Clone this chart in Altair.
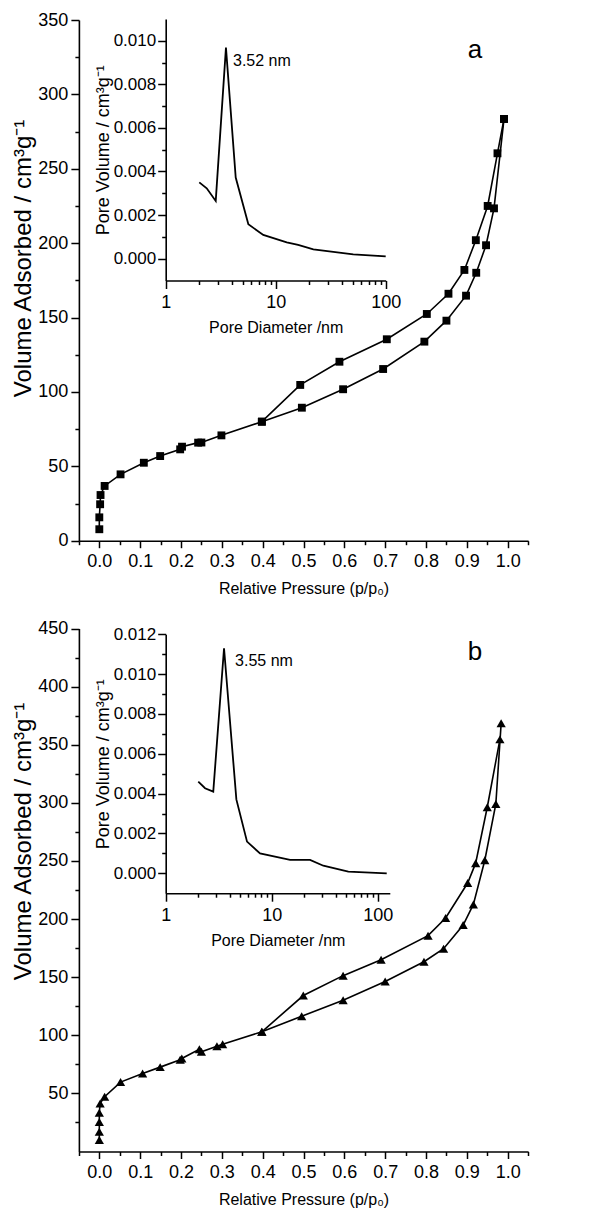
import altair as alt
import pandas as pd

# ---------------- data ----------------
# Panel a: N2 isotherm (squares)
a_ads_p = [0.0, 0.0, 0.002, 0.003, 0.013, 0.052, 0.109, 0.149, 0.198, 0.2025, 0.242, 0.25,
           0.299, 0.398, 0.496, 0.597, 0.695, 0.796, 0.85, 0.898, 0.923, 0.947, 0.9665, 0.991]
a_ads_v = [7.7, 15.7, 24.5, 30.7, 36.8, 44.6, 52.4, 56.9, 61.4, 63.2, 65.9, 66.0,
           70.8, 80.0, 89.4, 101.8, 115.4, 133.8, 147.9, 164.7, 180.1, 198.6, 223.4, 283.5]
a_des_p = [0.991, 0.975, 0.951, 0.922, 0.894, 0.855, 0.802, 0.704, 0.588, 0.492, 0.398]
a_des_v = [283.5, 260.4, 225.0, 202.0, 182.0, 166.0, 152.4, 135.4, 120.3, 104.7, 80.0]

# Panel b: N2 isotherm (triangles)
b_ads_p = [0.0, 0.0, 0.0, 0.0, 0.002, 0.013, 0.052, 0.106, 0.149, 0.198, 0.202, 0.245, 0.25,
           0.288, 0.302, 0.398, 0.4955, 0.597, 0.70, 0.795, 0.843, 0.891, 0.916, 0.944, 0.971, 0.984]
b_ads_v = [9.9, 17.0, 25.3, 33.4, 41.4, 47.1, 59.7, 67.2, 72.6, 78.9, 80.0, 88.0, 85.8,
           90.6, 92.3, 103.0, 116.4, 130.1, 146.2, 163.3, 174.5, 194.9, 212.6, 250.6, 299.0, 368.4]
b_des_p = [0.981, 0.950, 0.9216, 0.902, 0.848, 0.805, 0.69, 0.597, 0.4995, 0.398]
b_des_v = [354.6, 296.2, 248.1, 231.0, 200.9, 185.7, 165.0, 151.3, 134.2, 103.0]

# Insets: pore size distributions
a_psd_d = [2.02, 2.36, 2.85, 3.53, 4.33, 5.64, 7.71, 12.6, 16.0, 22.0, 33.4, 50.7, 100.0]
a_psd_v = [0.0035, 0.00323, 0.00265, 0.00968, 0.00372, 0.00158, 0.00109, 0.00075, 0.00063,
           0.00043, 0.00031, 0.0002, 0.00011]
b_psd_d = [2.03, 2.35, 2.81, 3.55, 4.64, 5.85, 7.76, 14.9, 23.0, 30.7, 52.8, 121.6]
b_psd_v = [0.0046, 0.00427, 0.0041, 0.0113, 0.00371, 0.00159, 0.0010, 0.00067, 0.00067,
           0.00038, 0.00008, 0.0]

# tick values
x_major = [0.0, 0.1, 0.2, 0.3, 0.4, 0.5, 0.6, 0.7, 0.8, 0.9, 1.0]
x_minor = [-0.05, 0.05, 0.15, 0.25, 0.35, 0.45, 0.55, 0.65, 0.75, 0.85, 0.95, 1.05]
a_y_major = [0, 50, 100, 150, 200, 250, 300, 350]
a_y_minor = [25, 75, 125, 175, 225, 275, 325]
b_y_major = [50, 100, 150, 200, 250, 300, 350, 400, 450]
b_y_minor = [25, 75, 125, 175, 225, 275, 325, 375, 425]
ins_x_major = [1, 10, 100]
ins_x_minor = [2, 3, 4, 5, 6, 7, 8, 9, 20, 30, 40, 50, 60, 70, 80, 90]
ia_y_major = [0.0, 0.002, 0.004, 0.006, 0.008, 0.010]
ia_y_minor = [0.001, 0.003, 0.005, 0.007, 0.009]
ib_y_major = [0.0, 0.002, 0.004, 0.006, 0.008, 0.010, 0.012]
ib_y_minor = [0.001, 0.003, 0.005, 0.007, 0.009, 0.011]

W, H = 593, 1201
FONT = "Liberation Sans"

X_TITLE = "Relative Pressure (p/p\u2080)"
Y_TITLE = "Volume Adsorbed / cm\u00b3g\u207b\u00b9"
IY_TITLE = "Pore Volume / cm\u00b3g\u207b\u00b9"
IX_TITLE = "Pore Diameter /nm"


def iso_df(ads_p, ads_v, des_p, des_v):
    rows = []
    for i, (p, v) in enumerate(zip(ads_p, ads_v)):
        rows.append(dict(p=p, v=v, branch="ads", i=i))
    for i, (p, v) in enumerate(zip(des_p, des_v)):
        rows.append(dict(p=p, v=v, branch="des", i=i))
    return pd.DataFrame(rows)


def main_panel(df, ydom, yrange, x_off, yvals, yminor, shape, size, letter, lp, lv, title_y):
    xs = alt.Scale(domain=[-0.05, 1.05], range=[70.9, 520.1], nice=False, zero=False)
    ys = alt.Scale(domain=ydom, range=yrange, nice=False, zero=False)
    xax = alt.Axis(orient="bottom", offset=x_off, values=x_major, format=".1f",
                   tickSize=7, labelPadding=5, labelFontSize=18,
                   title=X_TITLE, titlePadding=10, titleFontSize=16)
    yax = alt.Axis(orient="left", offset=-70.9, values=yvals, format="d",
                   tickSize=8, labelPadding=3, labelFontSize=18,
                   title=Y_TITLE, titlePadding=2, titleFontSize=24, titleY=title_y)
    xmin = alt.Axis(orient="bottom", offset=x_off, values=x_minor, labels=False,
                    tickSize=4, domain=False, title=None)
    ymin = alt.Axis(orient="left", offset=-70.9, values=yminor, labels=False,
                    tickSize=4, domain=False, title=None)
    base = alt.Chart(df)
    line = base.mark_line(color="black", strokeWidth=1.6).encode(
        x=alt.X("p:Q", scale=xs, axis=xax),
        y=alt.Y("v:Q", scale=ys, axis=yax),
        detail="branch:N",
        order="i:Q",
    )
    pts = base.mark_point(shape=shape, filled=True, size=size, color="black", opacity=1).encode(
        x=alt.X("p:Q", scale=xs, axis=None),
        y=alt.Y("v:Q", scale=ys, axis=None),
    )
    minor = base.mark_point(opacity=0).encode(
        x=alt.X("p:Q", scale=xs, axis=xmin),
        y=alt.Y("v:Q", scale=ys, axis=ymin),
    )
    lab = alt.Chart(pd.DataFrame({"p": [lp], "v": [lv], "t": [letter]})).mark_text(
        font=FONT, fontSize=26, color="black", align="center", baseline="middle"
    ).encode(
        x=alt.X("p:Q", scale=xs, axis=None),
        y=alt.Y("v:Q", scale=ys, axis=None),
        text="t:N",
    )
    return alt.layer(line, pts, minor, lab).resolve_axis(x="independent", y="independent")


def inset(d, v, xdom, xrange, ydom, yrange, x_off, yvals, yminor, label, lx, ly):
    df = pd.DataFrame({"d": d, "pv": v})
    xs = alt.Scale(type="log", domain=xdom, range=xrange, nice=False)
    ys = alt.Scale(domain=ydom, range=yrange, nice=False, zero=False)
    xax = alt.Axis(orient="bottom", offset=x_off, values=ins_x_major, format="d",
                   tickSize=8, labelPadding=5, labelFontSize=18,
                   title=IX_TITLE, titlePadding=8, titleFontSize=16)
    yax = alt.Axis(orient="left", offset=-157.7, values=yvals, format=".3f",
                   tickSize=8, labelPadding=2, labelFontSize=17,
                   title=IY_TITLE, titlePadding=1, titleFontSize=18)
    xmin = alt.Axis(orient="bottom", offset=x_off, values=ins_x_minor, labels=False,
                    tickSize=4, domain=False, title=None)
    ymin = alt.Axis(orient="left", offset=-157.7, values=yminor, labels=False,
                    tickSize=4, domain=False, title=None)
    base = alt.Chart(df)
    line = base.mark_line(color="black", strokeWidth=1.8).encode(
        x=alt.X("d:Q", scale=xs, axis=xax),
        y=alt.Y("pv:Q", scale=ys, axis=yax),
    )
    minor = base.mark_point(opacity=0).encode(
        x=alt.X("d:Q", scale=xs, axis=xmin),
        y=alt.Y("pv:Q", scale=ys, axis=ymin),
    )
    lab = alt.Chart(pd.DataFrame({"d": [lx], "pv": [ly], "t": [label]})).mark_text(
        font=FONT, fontSize=16, color="black", align="left", baseline="middle"
    ).encode(
        x=alt.X("d:Q", scale=xs, axis=None),
        y=alt.Y("pv:Q", scale=ys, axis=None),
        text="t:N",
    )
    return alt.layer(line, minor, lab).resolve_axis(x="independent", y="independent")


df_a = iso_df(a_ads_p, a_ads_v, a_des_p, a_des_v)
df_b = iso_df(b_ads_p, b_ads_v, b_des_p, b_des_v)

main_a = main_panel(df_a, [0, 350], [532.7, 12.0], 532.7 - H, a_y_major, a_y_minor,
                    "square", 62, "a", 0.92, 329.8, 250)
main_b = main_panel(df_b, [0, 450], [1143.5, 620.5], 1143.5 - H, b_y_major, b_y_minor,
                    "triangle-up", 85, "b", 0.92, 429.8, 833)
ins_a = inset(a_psd_d, a_psd_v, [1, 100], [157.7, 377.7], [-0.001, 0.011], [272.5, 10.9],
              272.5 - H, ia_y_major, ia_y_minor, "3.52 nm", 4.09, 0.00907)
ins_b = inset(b_psd_d, b_psd_v, [1, 130], [157.7, 381.8], [-0.001, 0.012], [885.2, 626.3],
              885.2 - H, ib_y_major, ib_y_minor, "3.55 nm", 4.51, 0.01066)

chart = (
    alt.layer(main_a, ins_a, main_b, ins_b)
    .resolve_scale(x="independent", y="independent")
    .resolve_axis(x="independent", y="independent")
    .properties(width=W, height=H, padding=0, autosize=alt.AutoSizeParams(type="none"))
    .configure_view(stroke=None)
    .configure_axis(
        grid=False,
        labelFont=FONT,
        labelColor="black",
        titleFont=FONT,
        titleFontWeight="normal",
        titleColor="black",
        tickColor="black",
        domainColor="black",
        domainWidth=1.6,
        tickWidth=1.5,
        labelFlush=False,
        labelOverlap=False,
    )
)

chart.save("out.html", embed_options={"renderer": "svg", "actions": False})
